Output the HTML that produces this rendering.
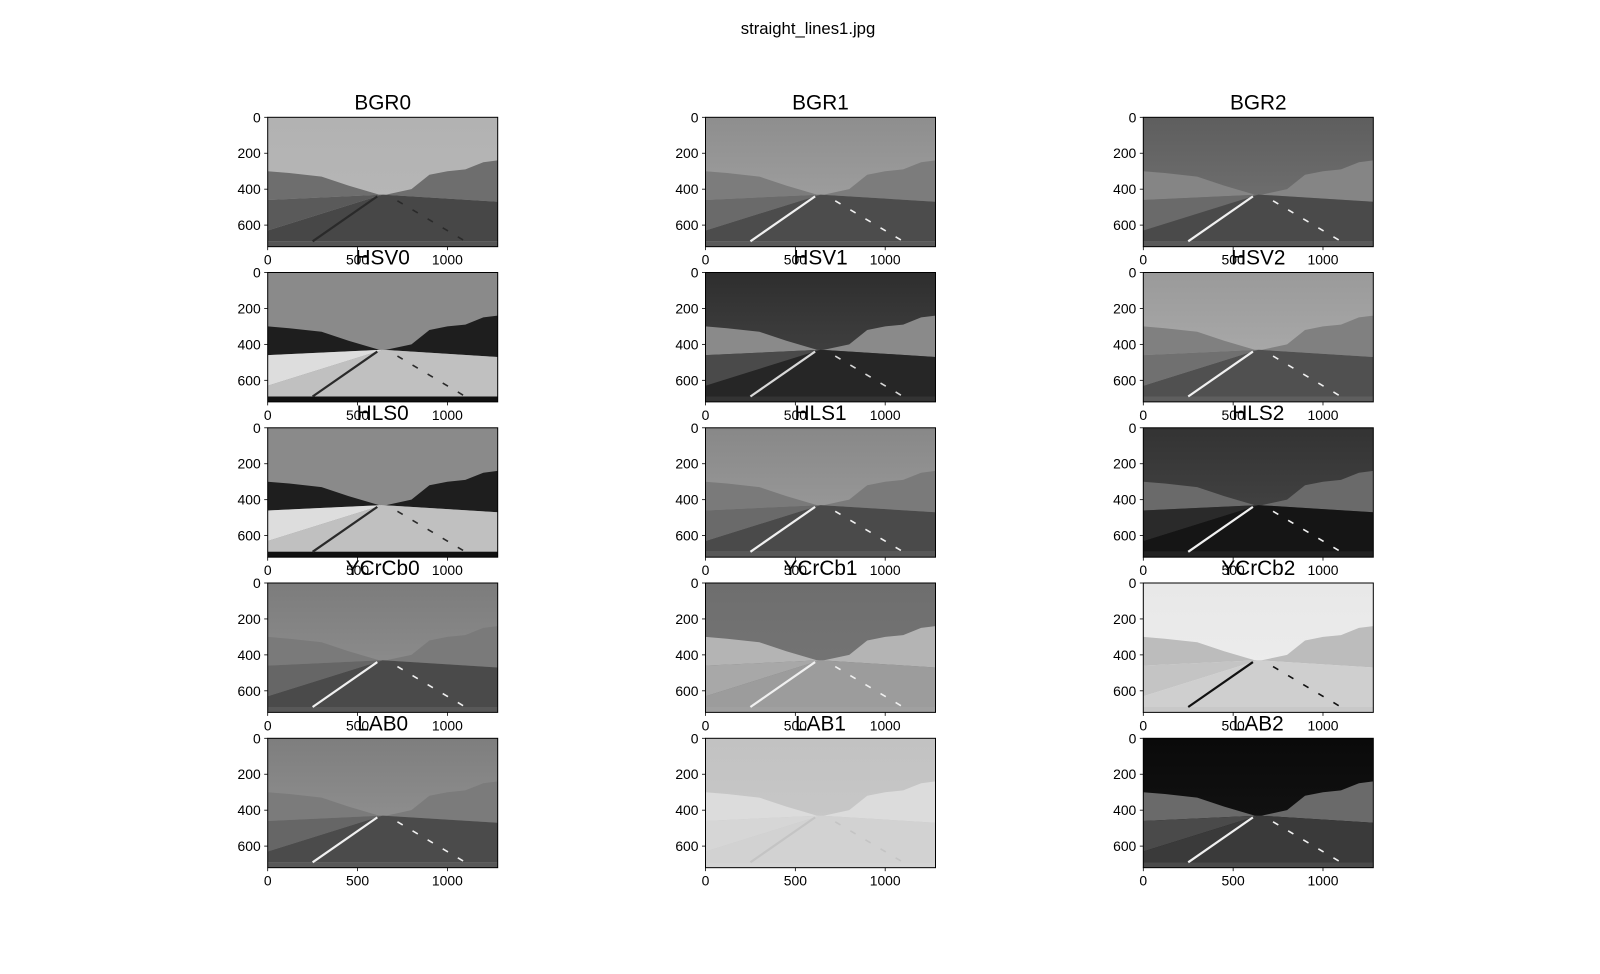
<!DOCTYPE html>
<html><head><meta charset="utf-8"><style>
body{margin:0;background:#fff;}
svg{display:block;font-family:"Liberation Sans","DejaVu Sans",sans-serif;}
</style></head><body>
<svg id="fig" width="1600" height="974" viewBox="0 0 1600 974">
<rect width="1600" height="974" fill="#fff"/>
<text x="808" y="34" font-size="16.7" text-anchor="middle">straight_lines1.jpg</text>
</svg>
<script>
// panel data
const panelNames = ["BGR0","BGR1","BGR2","HSV0","HSV1","HSV2","HLS0","HLS1","HLS2","YCrCb0","YCrCb1","YCrCb2","LAB0","LAB1","LAB2"];
const skyTop   = ["#b2b2b2","#8e8e8e","#5e5e5e","#8a8a8a","#2e2e2e","#9a9a9a","#8a8a8a","#888888","#333333","#7c7c7c","#6e6e6e","#e8e8e8","#7e7e7e","#c2c2c2","#0a0a0a"];
const skyBot   = ["#b8b8b8","#a6a6a6","#777777","#8a8a8a","#4a4a4a","#b0b0b0","#8a8a8a","#a0a0a0","#4a4a4a","#949494","#777777","#eeeeee","#979797","#cacaca","#161616"];
const hillCol  = ["#6e6e6e","#7c7c7c","#858585","#1e1e1e","#8a8a8a","#808080","#1e1e1e","#7a7a7a","#6a6a6a","#7a7a7a","#b4b4b4","#bcbcbc","#7b7b7b","#dcdcdc","#6a6a6a"];
const shoulder = ["#5a5a5a","#6a6a6a","#6a6a6a","#dddddd","#4a4a4a","#707070","#dddddd","#6a6a6a","#2a2a2a","#666666","#a8a8a8","#c4c4c4","#666666","#d6d6d6","#4a4a4a"];
const roadCol  = ["#474747","#4c4c4c","#4a4a4a","#c0c0c0","#262626","#505050","#c0c0c0","#4a4a4a","#151515","#4a4a4a","#9c9c9c","#cfcfcf","#4b4b4b","#d2d2d2","#3a3a3a"];
const laneCol  = ["#2a2a2a","#f0f0f0","#f0f0f0","#2a2a2a","#d8d8d8","#f0f0f0","#2a2a2a","#f0f0f0","#f0f0f0","#f0f0f0","#f0f0f0","#111111","#f0f0f0","#c4c4c4","#f0f0f0"];
const hoodCol  = ["#555555","#5a5a5a","#5a5a5a","#111111","#333333","#5e5e5e","#111111","#585858","#222222","#585858","#a0a0a0","#c8c8c8","#585858","#d4d4d4","#4a4a4a"];
const xTicks = [0,500,1000];
const yTicks = [0,200,400,600];
const imgW = 1280, imgH = 720;

const svg = document.getElementById('fig');
const NS = "http://www.w3.org/2000/svg";
const colX = [267.7,705.5,1143.3], rowY = [117.3,272.5,427.8,583.0,738.3];
const AW = 230, AH = 230*imgH/imgW;

function mk(tag, attrs, parent){const e=document.createElementNS(NS,tag);for(const k in attrs)e.setAttribute(k,attrs[k]);(parent||svg).appendChild(e);return e;}

// image geometry (image pixel coords)
const hillPts = [[0,300],[120,310],[300,330],[450,380],[620,430],[660,430],[800,400],[900,320],[1000,300],[1100,290],[1200,250],[1280,240],[1280,470],[640,430],[0,460]];
const shoulderPts = [[0,460],[640,430],[0,630]];
const roadPts = [[0,630],[640,430],[1280,470],[1280,690],[0,690]];
const hoodPts = [[0,690],[1280,690],[1280,720],[0,720]];

panelNames.forEach((name,i)=>{
  const x0 = colX[i%3], y0 = rowY[Math.floor(i/3)];
  const sx = v => x0 + v/imgW*AW, sy = v => y0 + v/imgH*AH;
  const g = mk('g',{});
  
  
  const gid = 'sky'+i;
  const grad = mk('linearGradient',{id:gid,x1:0,y1:0,x2:0,y2:1},g);
  mk('stop',{offset:0,'stop-color':skyTop[i]},grad);
  mk('stop',{offset:1,'stop-color':skyBot[i]},grad);
  const sky = mk('rect',{x:sx(0),y:sy(0),width:AW,height:AH,fill:'url(#'+gid+')'},g);
  
  
  const poly = (pts,fill)=>mk('polygon',{points:pts.map(p=>sx(p[0])+','+sy(p[1])).join(' '),fill:fill},g);
  poly(hillPts,hillCol[i]);
  poly(shoulderPts,shoulder[i]);
  poly(roadPts,roadCol[i]);
  poly(hoodPts,hoodCol[i]);
  mk('line',{x1:sx(610),y1:sy(440),x2:sx(250),y2:sy(690),stroke:laneCol[i],'stroke-width':2.2},g);
  for(let k=0;k<5;k++){
    const t0=0.1+k*0.2, t1=t0+0.07;
    mk('line',{x1:sx(680+420*t0),y1:sy(440+250*t0),x2:sx(680+420*t1),y2:sy(440+250*t1),stroke:laneCol[i],'stroke-width':1.6},g);
  }
  const frame = mk('rect',{x:x0,y:y0,width:AW,height:AH,fill:'none',stroke:'#000','stroke-width':1},g);
  
  
  xTicks.forEach(v=>{
    mk('line',{x1:sx(v),y1:y0+AH,x2:sx(v),y2:y0+AH+3.5,stroke:'#000','stroke-width':0.8},g);
    const t=mk('text',{x:sx(v),y:y0+AH+18,'font-size':13.9,'text-anchor':'middle'},g);
    t.textContent=v;
    
    
  });
  yTicks.forEach(v=>{
    mk('line',{x1:x0,y1:sy(v),x2:x0-3.5,y2:sy(v),stroke:'#000','stroke-width':0.8},g);
    const t=mk('text',{x:x0-7,y:sy(v)+5,'font-size':13.9,'text-anchor':'end'},g);
    t.textContent=v;
    
    
  });
  const tt=mk('text',{x:x0+AW/2,y:y0-8,'font-size':20.8,'text-anchor':'middle'},g);
  tt.textContent=name;
  
  
});
</script>
</body></html>
